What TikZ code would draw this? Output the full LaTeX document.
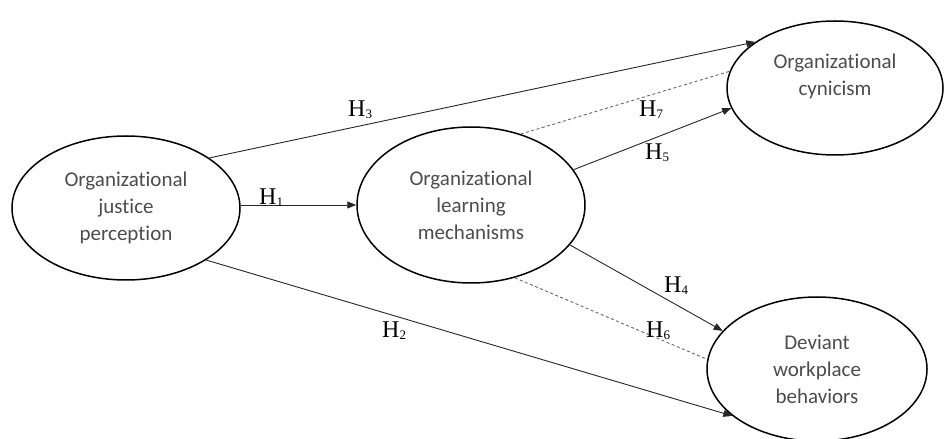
\documentclass[tikz,border=0pt]{standalone}
\usepackage{fontspec}
\setmainfont{Carlito}[Ligatures=NoCommon]
\newfontfamily\hypfont{Liberation Serif}
\usetikzlibrary{arrows.meta,positioning,shapes.geometric}
\newcommand{\hlabel}[1]{H\raisebox{-1.5pt}{\fontsize{13}{13}\selectfont #1}}

\begin{document}
\begin{tikzpicture}[x=1pt,y=1pt,>={Triangle[length=9pt,width=7pt]},
  construct/.style={ellipse,draw,line width=1.5pt,inner sep=0pt,align=center,text=black!70,font=\fontsize{21}{27}\selectfont},
  hyp/.style={anchor=base west,inner sep=0pt,font=\hypfont\fontsize{24}{24}\selectfont},
  link/.style={line width=0.9pt,black!85},
  dashlink/.style={link,black!60,dash pattern=on 3pt off 2.5pt}]
\useasboundingbox (0,0) rectangle (945,439);
% constructs
\node[construct,minimum width=228pt,minimum height=144pt] (justice) at (126,231){Organizational\\justice\\perception};
\node[construct,minimum width=228pt,minimum height=156pt] (learning) at (471,234){Organizational\\learning\\mechanisms};
\node[construct,minimum width=216pt,minimum height=134pt] (cynicism) at (835,351){Organizational\\cynicism\\\mbox{}};
\node[construct,minimum width=220pt,minimum height=144pt] (deviant) at (817,70){Deviant\\workplace\\behaviors};
% hypotheses
\draw[link,->] (justice.east |- learning.west) -- (learning.west);
\draw[link,->] (justice.31.9) -- (cynicism.150.5);
\draw[link,->] (justice.-33.5) -- (deviant.209.5);
\draw[link,->] (learning.19.9) -- (cynicism.191);
\draw[link,->] (learning.-22.5) -- (deviant.158.9);
\draw[dashlink] (learning.55.3) -- (cynicism.171.9);
\draw[dashlink] (learning.-59.2) -- (deviant.175.6);
\node[hyp] (h1) at (259,234){\hlabel{1}};
\node[hyp] (h2) at (382,101){\hlabel{2}};
\node[hyp] (h3) at (348,322){\hlabel{3}};
\node[hyp] (h4) at (664,146){\hlabel{4}};
\node[hyp] (h5) at (645,279){\hlabel{5}};
\node[hyp] (h6) at (646,101){\hlabel{6}};
\node[hyp] (h7) at (639,322){\hlabel{7}};
\end{tikzpicture}
\end{document}
